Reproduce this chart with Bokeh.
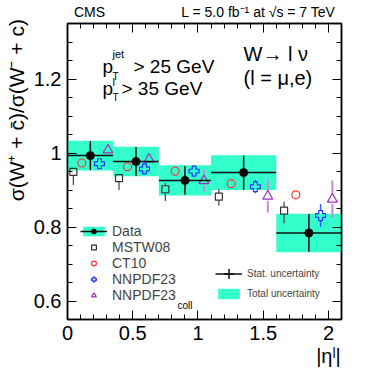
import numpy as np
from bokeh.plotting import figure
from bokeh.models import (ColumnDataSource, Label, Legend, LegendItem, LinearAxis,
                          FixedTicker, Range1d, CustomJSTickFormatter)
from bokeh.embed import file_html
from bokeh.resources import INLINE

# ---------------- data ----------------
bin_lo = [0.00, 0.35, 0.70, 1.10, 1.60]
bin_hi = [0.35, 0.70, 1.10, 1.60, 2.10]
data_x = [0.175, 0.525, 0.90, 1.35, 1.85]
data_y = [0.993, 0.977, 0.926, 0.947, 0.784]
data_stat = [0.039, 0.039, 0.039, 0.046, 0.051]
data_tot = [0.040, 0.040, 0.041, 0.047, 0.052]

mstw_x = [0.045, 0.395, 0.75, 1.16, 1.66]
mstw_y = [0.949, 0.932, 0.902, 0.882, 0.844]
mstw_lo = [0.036, 0.032, 0.032, 0.024, 0.034]
mstw_hi = [0.008, 0.008, 0.017, 0.020, 0.025]

ct10_x = [0.11, 0.46, 0.825, 1.255, 1.75]
ct10_y = [0.973, 0.963, 0.951, 0.917, 0.887]

nnpdf_x = [0.245, 0.59, 0.97, 1.44, 1.94]
nnpdf_y = [0.971, 0.957, 0.951, 0.909, 0.831]
nnpdf_err = [0.008, 0.008, 0.008, 0.018, 0.031]

coll_x = [0.31, 0.625, 1.045, 1.535, 2.03]
coll_y = [1.008, 0.983, 0.925, 0.883, 0.875]
coll_err = [0.008, 0.008, 0.030, 0.044, 0.051]

x_ticks = [0, 0.5, 1, 1.5, 2]
x_tick_labels = ["0", "0.5", "1", "1.5", "2"]
y_ticks = [0.6, 0.8, 1.0, 1.2]
y_tick_labels = ["0.6", "0.8", "1", "1.2"]

y_title = "\u03c3(W\u207a + c\u0304)/\u03c3(W\u207b + c)"
x_title = "|\u03b7\u02e1|"
top_texts = ["CMS", "L = 5.0 fb\u207b\u00b9 at \u221as = 7 TeV"]

# ---------------- layout / style ----------------
FONT = "Liberation Sans"
TEAL = "#33ffcc"
W, H = 372, 377
BL, BT = 67, 22
FW, FH = 274, 297
BR, BB = W - BL - FW, H - BT - FH
X0, X1, Y0, Y1 = 0.0, 2.1, 0.55, 1.35
PX_PER_Y = FH / (Y1 - Y0)


def px(xp, yp):
    """page pixel -> data coords"""
    return (X0 + (xp - BL) / FW * (X1 - X0),
            Y0 + (BT + FH - yp) / FH * (Y1 - Y0))


def err_src(x, y, lo, hi, half_px):
    g = half_px / PX_PER_Y
    x = np.asarray(x, float); y = np.asarray(y, float)
    lo = np.asarray(lo, float); hi = np.asarray(hi, float)
    xs = np.concatenate([x, x])
    y0 = np.concatenate([y + g, y - g])
    y1 = np.concatenate([y + np.maximum(hi, g), y - np.maximum(lo, g)])
    return ColumnDataSource(dict(x0=xs, x1=xs, y0=y0, y1=y1))


p = figure(width=W, height=H, x_range=Range1d(X0, X1), y_range=Range1d(Y0, Y1),
           output_backend="svg", toolbar_location=None,
           min_border_left=BL, min_border_right=BR, min_border_top=BT, min_border_bottom=BB)
p.xgrid.visible = False
p.ygrid.visible = False
p.outline_line_color = "black"
p.outline_line_width = 1.5
p.background_fill_color = "white"
p.border_fill_color = "white"

LOOKUP = "const i = t.findIndex(v => Math.abs(v - tick) < 1e-9); return i >= 0 ? l[i] : '';"


def fmt(ticks, labels):
    return CustomJSTickFormatter(args=dict(t=list(ticks), l=list(labels)), code=LOOKUP)


def style_axis(ax, ticker, formatter, size="20px", tick_in=9, minor_in=5, line=True):
    ax.ticker = ticker
    ax.formatter = formatter
    ax.major_tick_in = tick_in
    ax.major_tick_out = 0
    ax.minor_tick_in = minor_in
    ax.minor_tick_out = 0
    ax.axis_line_color = "black" if line else None
    ax.axis_line_width = 1.5
    ax.major_tick_line_width = 1
    ax.minor_tick_line_width = 1
    ax.major_label_text_font = FONT
    ax.major_label_text_color = "black"
    ax.major_label_text_font_size = size


xt = FixedTicker(ticks=x_ticks, minor_ticks=list(np.round(np.arange(0, 2.11, 0.1), 2)))
yt = FixedTicker(ticks=y_ticks, minor_ticks=list(np.round(np.arange(0.55, 1.351, 0.05), 3)))
empty = CustomJSTickFormatter(code="return '';")

style_axis(p.xaxis[0], xt, fmt(x_ticks, x_tick_labels))
p.xaxis[0].major_label_standoff = 6
style_axis(p.yaxis[0], yt, fmt(y_ticks, y_tick_labels))
p.yaxis[0].major_label_standoff = 6

top = LinearAxis()
style_axis(top, xt, empty)
top.major_label_standoff = 0
p.add_layout(top, "above")
right = LinearAxis()
style_axis(right, yt, empty)
right.major_label_standoff = 0
p.add_layout(right, "right")

# text-carrying axes (titles placed at chosen positions)
top_pos = [px(89, 0)[0], px(258, 0)[0]]
top_txt = LinearAxis(ticker=FixedTicker(ticks=top_pos, minor_ticks=[]))
style_axis(top_txt, top_txt.ticker, fmt(top_pos, top_texts), size="14px", tick_in=0, minor_in=0, line=False)
top_txt.major_label_standoff = 4
p.add_layout(top_txt, "above")

ylab_pos = [px(0, 109)[1]]
ylab = LinearAxis(ticker=FixedTicker(ticks=ylab_pos, minor_ticks=[]))
style_axis(ylab, ylab.ticker, fmt(ylab_pos, [y_title]), size="21px", tick_in=0, minor_in=0, line=False)
ylab.major_label_orientation = "parallel"
ylab.major_label_standoff = 2
p.add_layout(ylab, "left")

xlab_pos = [px(328, 0)[0]]
xlab = LinearAxis(ticker=FixedTicker(ticks=xlab_pos, minor_ticks=[]))
style_axis(xlab, xlab.ticker, fmt(xlab_pos, [x_title]), size="20px", tick_in=0, minor_in=0, line=False)
xlab.major_label_standoff = 2
p.add_layout(xlab, "below")

# ---------------- glyphs ----------------
dy = np.asarray(data_y)
box_src = ColumnDataSource(dict(left=bin_lo, right=bin_hi,
                                bottom=dy - np.asarray(data_tot), top=dy + np.asarray(data_tot)))
box_r = p.quad(left="left", right="right", bottom="bottom", top="top", source=box_src,
               fill_color=TEAL, line_color=None)

# theory predictions
p.segment("x0", "y0", "x1", "y1", source=err_src(mstw_x, mstw_y, mstw_lo, mstw_hi, 3.5),
          line_color="#444444", line_width=1.2)
p.segment("x0", "y0", "x1", "y1", source=err_src(nnpdf_x, nnpdf_y, nnpdf_err, nnpdf_err, 4.5),
          line_color="#3366ff", line_width=1.5)
p.segment("x0", "y0", "x1", "y1", source=err_src(coll_x, coll_y, coll_err, coll_err, 4.5),
          line_color="#cc88dd", line_width=2)

mstw_r = p.scatter(mstw_x, mstw_y, marker="square", size=7, fill_alpha=0,
                   line_color="#333333", line_width=1.2)
ct10_r = p.scatter(ct10_x, ct10_y, marker="circle", size=8, fill_alpha=0,
                   line_color="#ff3333", line_width=1.2)
nn_r = p.scatter(nnpdf_x, nnpdf_y, marker="plus", size=10, fill_alpha=0,
                 line_color="#2233ff", line_width=1.2)
coll_r = p.scatter(coll_x, coll_y, marker="triangle", size=10, fill_alpha=0,
                   line_color="#a030b8", line_width=1.2)

# data
hseg_r = p.segment(x0=bin_lo, x1=bin_hi, y0=data_y, y1=data_y, line_color="#111111", line_width=1.5)
p.segment(x0=data_x, x1=data_x, y0=list(dy - np.asarray(data_stat)),
          y1=list(dy + np.asarray(data_stat)), line_color="#111111", line_width=1.5)
cross_r = p.scatter(data_x, data_y, marker="cross", size=10, line_color="#111111", line_width=1.5)
dot_r = p.scatter(data_x, data_y, marker="circle", size=8, fill_color="black", line_color="black")


# ---------------- legends ----------------
def mk_legend(items, loc, gw, gh, lh, fs, standoff=5):
    lg = Legend(items=items, location=loc, glyph_width=gw, glyph_height=gh, label_height=lh,
                label_text_font=FONT, label_text_font_size=fs, label_standoff=standoff,
                spacing=0, padding=0, margin=0, border_line_alpha=0, background_fill_alpha=0)
    p.add_layout(lg, "center")
    return lg


mk_legend([LegendItem(label="Data", renderers=[box_r, hseg_r, dot_r]),
           LegendItem(label="MSTW08", renderers=[mstw_r]),
           LegendItem(label="CT10", renderers=[ct10_r]),
           LegendItem(label="NNPDF23", renderers=[nn_r]),
           LegendItem(label="NNPDF23", renderers=[coll_r])],
          (13, 16), 27, 12, 16, "14px")
mk_legend([LegendItem(label="Stat. uncertainty", renderers=[hseg_r, cross_r])],
          (148, 33), 27, 25, 12, "10px")
mk_legend([LegendItem(label="Total uncertainty", renderers=[box_r])],
          (148, 19), 27, 13, 13, "10px")


# ---------------- texts inside the frame ----------------
def lab(text, xp, yp, size, align="left", baseline="alphabetic"):
    x, y = px(xp, yp)
    p.add_layout(Label(x=x, y=y, text=text, text_font=FONT, text_font_size=size,
                       text_align=align, text_baseline=baseline, text_color="black"))


lab("coll", 177, 305, "10px")

lab("p", 102, 65, "19px")
lab("jet", 112, 53, "11px")
lab("T", 112, 75, "10px")
lab("> 25 GeV", 133, 65, "19px")
lab("p", 102, 87, "19px")
lab("l", 112, 81, "11px")
lab("T", 112, 96, "10px")
lab("> 35 GeV", 121, 87, "19px")

lab("W\u2192 l \u03bd", 243, 53, "20px")
lab("(l = \u03bc,e)", 243, 77, "20px")

open("out.html", "w").write(file_html(p, INLINE))
